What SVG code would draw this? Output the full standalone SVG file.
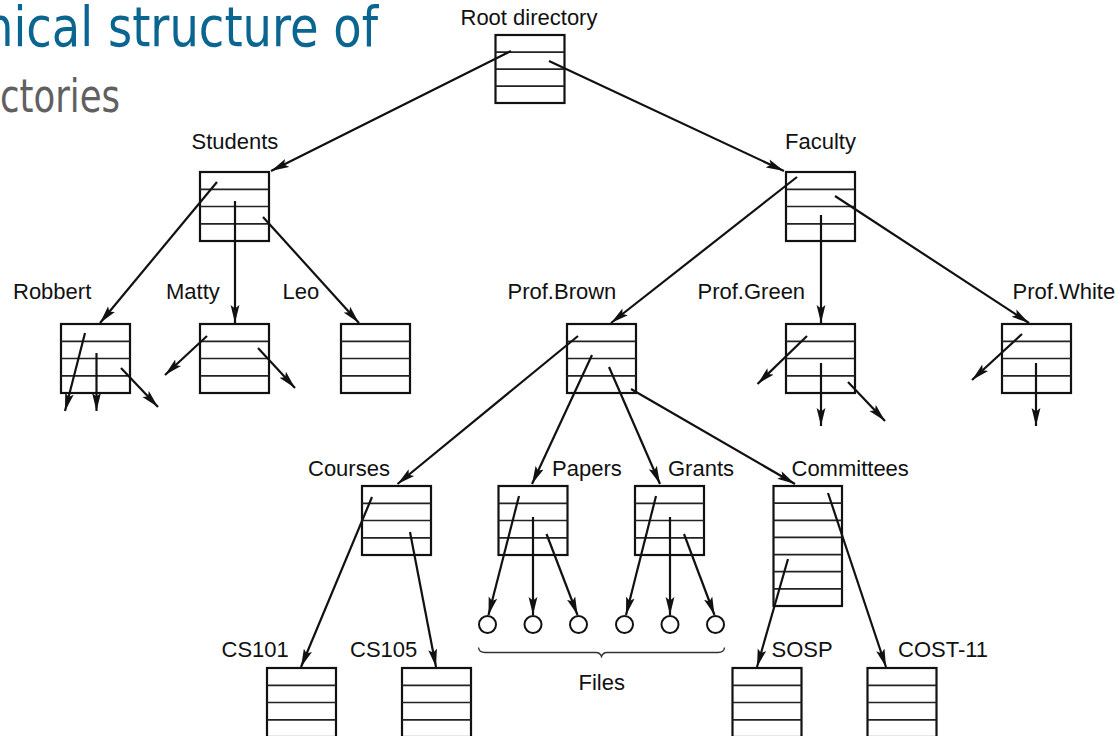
<svg xmlns="http://www.w3.org/2000/svg" width="1118" height="736" viewBox="0 0 1118 736">
<defs>
<style>
.bg{fill:#ffffff}
.title1{font-family:"DejaVu Sans Condensed","DejaVu Sans",sans-serif;font-size:55px;fill:#0a6590}
.title2{font-family:"DejaVu Sans Condensed","DejaVu Sans",sans-serif;font-size:46px;fill:#606060}
.lbl{font-family:"Liberation Sans",Arial,sans-serif;font-size:22px;fill:#111}
.box{fill:#fff;stroke:#111;stroke-width:2.2}
.row{stroke:#222;stroke-width:1.7}
.edge{stroke:#111;stroke-width:2.2;fill:none;marker-end:url(#ah)}
.file{fill:#fff;stroke:#111;stroke-width:2}
.brace{fill:none;stroke:#333;stroke-width:1.4}
</style>
<marker id="ah" markerUnits="userSpaceOnUse" viewBox="0 0 19 10" refX="18" refY="5" markerWidth="19" markerHeight="10" orient="auto">
<path d="M0,0.6 L18,5 L0,9.4 L3.5,5 Z" fill="#111"/>
</marker>
</defs>
<rect class="bg" x="0" y="0" width="1118" height="736"/>

<g id="title">
<text class="title1" x="-16" y="46" textLength="394" lengthAdjust="spacingAndGlyphs">hical structure of</text>
<text class="title2" x="0" y="112" textLength="120" lengthAdjust="spacingAndGlyphs">ctories</text>
</g>

<g id="root">
<text class="lbl" x="460.5" y="25">Root directory</text>
<rect class="box" x="495.5" y="35" width="69" height="68"/>
<path class="row" d="M495.5,52.2H564.5M495.5,69.2H564.5M495.5,86.2H564.5"/>
</g>

<g id="students">
<text class="lbl" x="191.5" y="149">Students</text>
<rect class="box" x="200" y="172" width="69" height="69"/>
<path class="row" d="M200,189.3H269M200,206.5H269M200,223.8H269"/>
</g>

<g id="robbert">
<text class="lbl" x="13" y="299">Robbert</text>
<rect class="box" x="61" y="324" width="69" height="69"/>
<path class="row" d="M61,341.3H130M61,358.5H130M61,375.8H130"/>
</g>

<g id="matty">
<text class="lbl" x="166" y="299">Matty</text>
<rect class="box" x="200" y="324" width="69" height="69"/>
<path class="row" d="M200,341.3H269M200,358.5H269M200,375.8H269"/>
</g>

<g id="leo">
<text class="lbl" x="282.5" y="299">Leo</text>
<rect class="box" x="341" y="324" width="69" height="69"/>
<path class="row" d="M341,341.3H410M341,358.5H410M341,375.8H410"/>
</g>

<g id="faculty">
<text class="lbl" x="785" y="149">Faculty</text>
<rect class="box" x="786" y="172" width="69" height="69"/>
<path class="row" d="M786,189.3H855M786,206.5H855M786,223.8H855"/>
</g>

<g id="prof-brown">
<text class="lbl" x="507.5" y="299">Prof.Brown</text>
<rect class="box" x="567" y="324" width="69" height="69"/>
<path class="row" d="M567,341.3H636M567,358.5H636M567,375.8H636"/>
</g>

<g id="prof-green">
<text class="lbl" x="697.5" y="299">Prof.Green</text>
<rect class="box" x="786" y="324" width="69" height="69"/>
<path class="row" d="M786,341.3H855M786,358.5H855M786,375.8H855"/>
</g>

<g id="prof-white">
<text class="lbl" x="1012.5" y="299">Prof.White</text>
<rect class="box" x="1002" y="324" width="69" height="69"/>
<path class="row" d="M1002,341.3H1071M1002,358.5H1071M1002,375.8H1071"/>
</g>

<g id="courses">
<text class="lbl" x="308" y="476">Courses</text>
<rect class="box" x="362" y="486" width="69" height="69"/>
<path class="row" d="M362,503.3H431M362,520.5H431M362,537.8H431"/>
</g>

<g id="papers">
<text class="lbl" x="552" y="476">Papers</text>
<rect class="box" x="498.5" y="486" width="69" height="69"/>
<path class="row" d="M498.5,503.3H567.5M498.5,520.5H567.5M498.5,537.8H567.5"/>
</g>

<g id="grants">
<text class="lbl" x="668" y="476">Grants</text>
<rect class="box" x="635" y="486" width="69" height="69"/>
<path class="row" d="M635,503.3H704M635,520.5H704M635,537.8H704"/>
</g>

<g id="committees">
<text class="lbl" x="791.5" y="476">Committees</text>
<rect class="box" x="773.5" y="486" width="68.5" height="120"/>
<path class="row" d="M773.5,503.1H842M773.5,520.3H842M773.5,537.4H842M773.5,554.6H842M773.5,571.7H842M773.5,588.9H842"/>
</g>

<g id="files">
<circle class="file" cx="487.5" cy="624.5" r="8.5"/>
<circle class="file" cx="533" cy="624.5" r="8.5"/>
<circle class="file" cx="578.5" cy="624.5" r="8.5"/>
<circle class="file" cx="624.5" cy="624.5" r="8.5"/>
<circle class="file" cx="670" cy="624.5" r="8.5"/>
<circle class="file" cx="715.5" cy="624.5" r="8.5"/>
<path class="brace" d="M478.5,647.5Q479,652.5 485,652.5H596Q600,652.5 601.5,656.5Q603,652.5 607,652.5H718Q724,652.5 724.5,647.5"/>
<text class="lbl" x="578.5" y="690">Files</text>
</g>

<g id="cs101">
<text class="lbl" x="221.5" y="657">CS101</text>
<rect class="box" x="267" y="668" width="69" height="69"/>
<path class="row" d="M267,685.3H336M267,702.5H336M267,719.8H336"/>
</g>

<g id="cs105">
<text class="lbl" x="350" y="657">CS105</text>
<rect class="box" x="402" y="668" width="69" height="69"/>
<path class="row" d="M402,685.3H471M402,702.5H471M402,719.8H471"/>
</g>

<g id="sosp">
<text class="lbl" x="771.5" y="657">SOSP</text>
<rect class="box" x="732.5" y="668" width="69" height="69"/>
<path class="row" d="M732.5,685.3H801.5M732.5,702.5H801.5M732.5,719.8H801.5"/>
</g>

<g id="cost-11">
<text class="lbl" x="898" y="657">COST-11</text>
<rect class="box" x="867.5" y="668" width="69" height="69"/>
<path class="row" d="M867.5,685.3H936.5M867.5,702.5H936.5M867.5,719.8H936.5"/>
</g>

<g id="connectors">
<line class="edge" x1="511" y1="51" x2="271" y2="171"/>
<line class="edge" x1="549" y1="61" x2="784" y2="171"/>
<line class="edge" x1="217" y1="182" x2="100" y2="323"/>
<line class="edge" x1="235" y1="201" x2="235" y2="323"/>
<line class="edge" x1="263" y1="217" x2="359" y2="323"/>
<line class="edge" x1="85" y1="333" x2="65" y2="411"/>
<line class="edge" x1="96.5" y1="353" x2="96.5" y2="411"/>
<line class="edge" x1="121" y1="368" x2="158" y2="407"/>
<line class="edge" x1="207" y1="336" x2="165" y2="375"/>
<line class="edge" x1="258" y1="348" x2="295" y2="388"/>
<line class="edge" x1="797" y1="177" x2="611" y2="323"/>
<line class="edge" x1="821" y1="215" x2="821" y2="323"/>
<line class="edge" x1="835" y1="196" x2="1029" y2="323"/>
<line class="edge" x1="807" y1="336" x2="757.5" y2="384"/>
<line class="edge" x1="821" y1="363" x2="821" y2="426"/>
<line class="edge" x1="848" y1="382" x2="885" y2="421"/>
<line class="edge" x1="1022" y1="334" x2="972" y2="380"/>
<line class="edge" x1="1036" y1="363" x2="1036" y2="426"/>
<line class="edge" x1="578" y1="336" x2="397.5" y2="484"/>
<line class="edge" x1="592" y1="355" x2="532" y2="484"/>
<line class="edge" x1="609" y1="367" x2="660" y2="484"/>
<line class="edge" x1="631" y1="389" x2="795" y2="484"/>
<line class="edge" x1="372" y1="497" x2="301" y2="667"/>
<line class="edge" x1="410" y1="532" x2="436" y2="667"/>
<line class="edge" x1="519" y1="496" x2="488.5" y2="615"/>
<line class="edge" x1="533" y1="517" x2="533" y2="615"/>
<line class="edge" x1="546.5" y1="534" x2="577.5" y2="615"/>
<line class="edge" x1="656" y1="496" x2="626" y2="615"/>
<line class="edge" x1="670" y1="517" x2="670" y2="615"/>
<line class="edge" x1="684" y1="534" x2="714.5" y2="615"/>
<line class="edge" x1="788" y1="559" x2="757" y2="667"/>
<line class="edge" x1="828" y1="493" x2="886" y2="667"/>
</g>
</svg>
